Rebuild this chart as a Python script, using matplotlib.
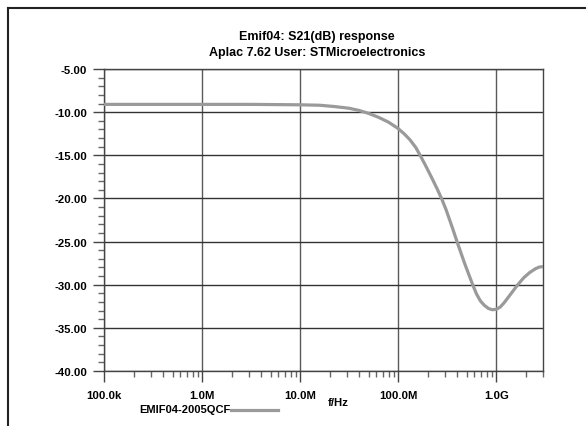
import numpy as np
import matplotlib
matplotlib.use("Agg")
import matplotlib.pyplot as plt
from matplotlib.lines import Line2D
from matplotlib.ticker import FixedLocator, NullFormatter

plt.rcParams['font.family'] = ['Liberation Sans', 'DejaVu Sans']

# Data: log10(frequency/Hz) and S21 in dB
log_f = [5.0, 6.0, 6.5, 7.0, 7.2, 7.35, 7.5, 7.6, 7.7, 7.8, 7.9, 8.0, 8.06,
         8.12, 8.18, 8.224, 8.28, 8.34, 8.40, 8.446, 8.49, 8.55, 8.6, 8.68,
         8.76, 8.80, 8.84, 8.88, 8.92, 8.96, 9.0, 9.04, 9.08, 9.12, 9.16,
         9.22, 9.28, 9.34, 9.40, 9.44, 9.48]
s21_db = [-9.1, -9.1, -9.1, -9.15, -9.2, -9.35, -9.55, -9.8, -10.15, -10.6,
          -11.15, -11.9, -12.5, -13.2, -14.1, -15.0, -16.2, -17.55, -18.95,
          -20.1, -21.35, -23.3, -25.0, -27.6, -30.0, -31.1, -31.9, -32.4,
          -32.75, -32.9, -32.85, -32.6, -32.1, -31.5, -30.9, -30.0, -29.2,
          -28.6, -28.15, -27.95, -27.9]
freq = [10 ** v for v in log_f]

title_lines = ["Emif04: S21(dB) response", "Aplac 7.62 User: STMicroelectronics"]
x_major = [1e5, 1e6, 1e7, 1e8, 1e9]
x_labels = ["100.0k", "1.0M", "10.0M", "100.0M", "1.0G"]
y_major = [-5, -10, -15, -20, -25, -30, -35, -40]
series_name = "EMIF04-2005QCF"
x_name = "f/Hz"

W, H = 586, 427
fig = plt.figure(figsize=(W / 100, H / 100), dpi=100)

def fx(px):
    return px / W

def fy(py):
    return 1 - py / H

ax = fig.add_axes([fx(104), fy(372), fx(543) - fx(104), fy(70) - fy(372)])
ax.set_xscale('log')
ax.set_xlim(1e5, 3e9)
ax.set_ylim(-40, -5)

ax.plot(freq, s21_db, color='#9a9a9a', lw=2.3, solid_capstyle='round',
        solid_joinstyle='round', zorder=3)

ax.xaxis.set_major_locator(FixedLocator(x_major))
ax.set_xticklabels(x_labels)
minor_x = [m * 10 ** d for d in range(5, 10) for m in range(2, 10) if m * 10 ** d <= 3e9]
ax.xaxis.set_minor_locator(FixedLocator(minor_x))
ax.xaxis.set_minor_formatter(NullFormatter())
ax.yaxis.set_major_locator(FixedLocator(y_major))
ax.set_yticklabels(["%.2f" % v for v in y_major])
ax.yaxis.set_minor_locator(FixedLocator(np.arange(-40, -4, 1)))

ax.xaxis.grid(True, which='major', color='#5a5a5a', lw=1.0, zorder=1)
ax.yaxis.grid(True, which='major', color='#333333', lw=1.0, zorder=1)
ax.tick_params(axis='both', which='major', direction='out', length=8, width=1.0,
               color='#444444', labelsize=8.2)
ax.tick_params(axis='both', which='minor', direction='out', length=4.5, width=1.0,
               color='#666666')
ax.tick_params(axis='x', which='major', pad=6)
ax.tick_params(axis='y', which='major', pad=4)
for lab in ax.get_xticklabels() + ax.get_yticklabels():
    lab.set_fontweight('bold')
for name, s in ax.spines.items():
    s.set_color('#444444')
    s.set_linewidth(1.0)

# Titles
fig.text(fx(317), fy(37), title_lines[0], ha='center', va='center',
         fontsize=9, fontweight='bold')
fig.text(fx(317), fy(53), title_lines[1], ha='center', va='center',
         fontsize=9, fontweight='bold')

# x-axis name
fig.text(fx(338), fy(403), x_name, ha='center', va='center', fontsize=8.2,
         fontweight='bold')

# Legend
fig.text(fx(230), fy(410), series_name, ha='right', va='center', fontsize=8,
         fontweight='bold')
fig.add_artist(Line2D([fx(231), fx(278)], [fy(411), fy(411)], color='#9a9a9a',
                      lw=2.3, transform=fig.transFigure))

# Outer frame (top and left edges)
fig.add_artist(Line2D([fx(8), fx(586)], [fy(9), fy(9)], color='#222222', lw=1.5,
                      transform=fig.transFigure))
fig.add_artist(Line2D([fx(8), fx(8)], [fy(9), fy(427)], color='#222222', lw=1.5,
                      transform=fig.transFigure))

fig.savefig('out.png', dpi=100)
